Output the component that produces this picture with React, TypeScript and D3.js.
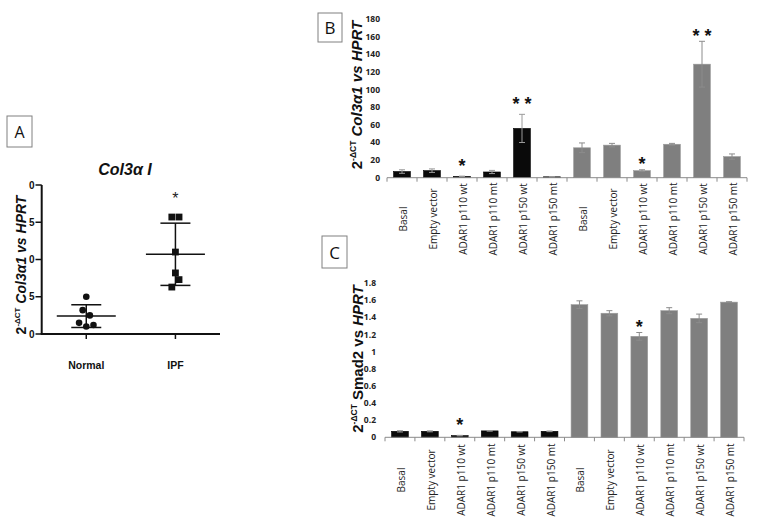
import React from "react";
import * as d3 from "d3";

// ---------- Panel A data (Col3α I, scatter with mean ± SD) ----------
const panelACategories = ["Normal", "IPF"];
const normalValues = [5.0, 3.2, 2.5, 1.5, 1.2, 1.0];
const ipfValues = [15.7, 15.7, 11.0, 8.2, 7.3, 6.3];
const panelATicks = [0, 5, 10, 15, 20];
const panelATickLabels = ["0", "5", "0", "5", "0"];
const panelASig = ["", "*"];

// ---------- Panels B & C shared categories ----------
const groupCategories = [
  "Basal",
  "Empty vector",
  "ADAR1 p110 wt",
  "ADAR1 p110 mt",
  "ADAR1 p150 wt",
  "ADAR1 p150 mt",
];

// ---------- Panel B data (Col3α1) ----------
const col3BlackMeans = [7, 8, 1.5, 6.5, 56, 1];
const col3BlackErr = [2, 2, 0.3, 1.8, 16, 0.2];
const col3GreyMeans = [34, 37, 8, 38, 129, 24];
const col3GreyErr = [5.5, 2, 1, 1, 26, 3];
const col3BlackSig = ["", "", "*", "", "* *", ""];
const col3GreySig = ["", "", "*", "", "* *", ""];
const col3Ticks = [0, 20, 40, 60, 80, 100, 120, 140, 160, 180];

// ---------- Panel C data (Smad2) ----------
const smadBlackMeans = [0.07, 0.07, 0.02, 0.075, 0.065, 0.07];
const smadBlackErr = [0.008, 0.006, 0.003, 0.003, 0.003, 0.004];
const smadGreyMeans = [1.55, 1.45, 1.18, 1.48, 1.39, 1.58];
const smadGreyErr = [0.045, 0.03, 0.045, 0.035, 0.05, 0.005];
const smadBlackSig = ["", "", "*", "", "", ""];
const smadGreySig = ["", "", "*", "", "", ""];
const smadTicks = [0, 0.2, 0.4, 0.6, 0.8, 1, 1.2, 1.4, 1.6, 1.8];

const SANS = "'Liberation Sans', Arial, sans-serif";
const LABEL_FONT = "'Open Sans', 'Noto Sans', sans-serif";

function LetterBox({ x, y, w, h, letter, size }: any) {
  return (
    <g>
      <rect x={x} y={y} width={w} height={h} fill="#fff" stroke="#808080" strokeWidth={1} />
      <text
        x={x + w / 2}
        y={y + h / 2}
        textAnchor="middle"
        dominantBaseline="central"
        fontFamily={LABEL_FONT}
        fontSize={size}
        fill="#111"
      >
        {letter}
      </text>
    </g>
  );
}

function PanelA() {
  const y = d3.scaleLinear().domain([0, 20]).range([334, 185]);
  const x = d3.scalePoint().domain(panelACategories).range([41.7, 220]).padding(0.5);
  const jitterStep = 3.6;
  const normalJitter = [0, -1, 1, -2, 2, 0];
  const ipfJitter = [-1, 1, 0, 0, 1, -1];
  const groups = [
    { cat: "Normal", values: normalValues, jitter: normalJitter, shape: "circle" },
    { cat: "IPF", values: ipfValues, jitter: ipfJitter, shape: "square" },
  ];
  return (
    <g>
      {/* title */}
      <text x={125} y={175} textAnchor="middle" fontFamily={SANS} fontWeight="bold" fontStyle="italic" fontSize={16} fill="#111">
        Col3α I
      </text>
      {/* y title */}
      <text
        transform="translate(26,265) rotate(-90)"
        textAnchor="middle"
        fontFamily={SANS}
        fontWeight="bold"
        fontSize={14}
        fill="#111"
      >
        <tspan>2</tspan>
        <tspan fontSize={8} dy={-6}>-ΔCT</tspan>
        <tspan dy={6} fontStyle="italic"> Col3α1 vs HPRT</tspan>
      </text>
      {/* axes */}
      <line x1={41.7} x2={41.7} y1={y(20)} y2={y(0)} stroke="#111" strokeWidth={2} />
      <line x1={40.7} x2={220} y1={y(0)} y2={y(0)} stroke="#111" strokeWidth={2} />
      {panelATicks.map((t, i) => (
        <g key={t}>
          <line x1={35.5} x2={41.7} y1={y(t)} y2={y(t)} stroke="#111" strokeWidth={1.5} />
          <text x={34.5} y={y(t)} dy="0.35em" textAnchor="end" fontFamily={SANS} fontWeight="bold" fontSize={10} fill="#111">
            {panelATickLabels[i]}
          </text>
        </g>
      ))}
      {panelACategories.map((c) => (
        <g key={c}>
          <line x1={x(c)!} x2={x(c)!} y1={y(0)} y2={y(0) + 5} stroke="#111" strokeWidth={1.5} />
          <text x={x(c)!} y={369} textAnchor="middle" fontFamily={SANS} fontWeight="bold" fontSize={10.5} fill="#111">
            {c}
          </text>
        </g>
      ))}
      {groups.map((g, gi) => {
        const cx = x(g.cat)!;
        const mean = d3.mean(g.values)!;
        const sd = d3.deviation(g.values)!;
        return (
          <g key={g.cat}>
            <line x1={cx} x2={cx} y1={y(mean - sd)} y2={y(mean + sd)} stroke="#111" strokeWidth={1.5} />
            <line x1={cx - 29.5} x2={cx + 29.5} y1={y(mean)} y2={y(mean)} stroke="#111" strokeWidth={1.5} />
            <line x1={cx - 15} x2={cx + 15} y1={y(mean - sd)} y2={y(mean - sd)} stroke="#111" strokeWidth={1.5} />
            <line x1={cx - 15} x2={cx + 15} y1={y(mean + sd)} y2={y(mean + sd)} stroke="#111" strokeWidth={1.5} />
            {g.values.map((v, i) =>
              g.shape === "circle" ? (
                <circle key={i} cx={cx + g.jitter[i] * jitterStep} cy={y(v)} r={3.3} fill="#111" />
              ) : (
                <rect key={i} x={cx + g.jitter[i] * jitterStep - 3.4} y={y(v) - 3.4} width={6.8} height={6.8} fill="#111" />
              )
            )}
            {panelASig[gi] && (
              <text x={cx} y={y(mean + sd) - 19} textAnchor="middle" fontFamily={SANS} fontSize={16} fill="#222">
                {panelASig[gi]}
              </text>
            )}
          </g>
        );
      })}
    </g>
  );
}

function BarPanel(props: any) {
  const {
    x0, x1, yZero, yTop, domainMax, ticks, fmt, tickLabelX,
    black, blackErr, grey, greyErr, blackSig, greySig, labelCenterY,
  } = props;
  const y = d3.scaleLinear().domain([0, domainMax]).range([yZero, yTop]);
  const keys = [...groupCategories.map((c) => "k|" + c), ...groupCategories.map((c) => "g|" + c)];
  const x = d3.scaleBand().domain(keys).range([x0, x1]).paddingInner(0.44).paddingOuter(0.22);
  const step = x.step();
  const series = [
    { prefix: "k|", values: black, err: blackErr, sig: blackSig, fill: "#0a0a0a", errColor: "#9a9a9a", sigOff: 15 },
    { prefix: "g|", values: grey, err: greyErr, sig: greySig, fill: "#7f7f7f", errColor: "#8c8c8c", sigOff: 10 },
  ];
  return (
    <g>
      {ticks.map((t: number) => (
        <text key={t} x={tickLabelX} y={y(t)} dy="0.35em" textAnchor="end" fontFamily={LABEL_FONT} fontWeight="bold" fontSize={8.5} fill="#222">
          {fmt(t)}
        </text>
      ))}
      {series.map((s) =>
        groupCategories.map((c, i) => {
          const k = s.prefix + c;
          const bx = x(k)!;
          const cx = bx + x.bandwidth() / 2;
          const v = s.values[i];
          const e = s.err[i];
          return (
            <g key={k}>
              <rect x={bx} y={y(v)} width={x.bandwidth()} height={yZero - y(v)} fill={s.fill} stroke={s.prefix === "g|" ? "#9a9a9a" : "#000"} strokeWidth={0.6} />
              <line x1={cx} x2={cx} y1={y(Math.max(0, v - e))} y2={y(v + e)} stroke={s.errColor} strokeWidth={1} />
              <line x1={cx - 3} x2={cx + 3} y1={y(v + e)} y2={y(v + e)} stroke={s.errColor} strokeWidth={1} />
              <line x1={cx - 3} x2={cx + 3} y1={y(Math.max(0, v - e))} y2={y(Math.max(0, v - e))} stroke={s.errColor} strokeWidth={1} />
              {s.sig[i] && (
                <text x={cx} y={y(v + e) - s.sigOff + 10.5} textAnchor="middle" fontFamily={SANS} fontWeight="bold" fontSize={18} fill="#111">
                  {s.sig[i]}
                </text>
              )}
              <text
                transform={`translate(${cx + 1},${labelCenterY}) rotate(-90)`}
                textAnchor="middle"
                dominantBaseline="central"
                fontFamily={LABEL_FONT}
                fontSize={10}
                fill="#222"
              >
                {c}
              </text>
            </g>
          );
        })
      )}
      <line x1={x0} x2={x1} y1={yZero} y2={yZero} stroke="#8a8a8a" strokeWidth={1} />
      {d3.range(keys.length + 1).map((i) => (
        <line key={i} x1={x0 + i * step} x2={x0 + i * step} y1={yZero} y2={yZero + 4} stroke="#8a8a8a" strokeWidth={1} />
      ))}
    </g>
  );
}

export default function App() {
  return (
    <svg
      width={757}
      height={531}
      viewBox="0 0 757 531"
      style={{ position: "absolute", left: 0, top: 0, background: "#fff" }}
    >
      <rect x={0} y={0} width={757} height={531} fill="#fff" />
      <LetterBox x={7} y={116} w={25} h={31} letter="A" size={16} />
      <LetterBox x={318} y={13} w={24} h={29} letter="B" size={17} />
      <LetterBox x={322} y={236} w={25} h={32} letter="C" size={17} />
      <PanelA />

      {/* Panel B */}
      <text transform="translate(362,95) rotate(-90)" textAnchor="middle" fontFamily={SANS} fontWeight="bold" fontSize={15} fill="#111">
        <tspan>2</tspan>
        <tspan fontSize={8.5} dy={-6}>-ΔCT</tspan>
        <tspan dy={6} fontStyle="italic"> Col3α1 vs HPRT</tspan>
      </text>
      <BarPanel
        x0={387}
        x1={747}
        yZero={177.7}
        yTop={19.3}
        domainMax={180}
        ticks={col3Ticks}
        fmt={(t: number) => String(t)}
        tickLabelX={380}
        black={col3BlackMeans}
        blackErr={col3BlackErr}
        grey={col3GreyMeans}
        greyErr={col3GreyErr}
        blackSig={col3BlackSig}
        greySig={col3GreySig}
        labelCenterY={219}
      />

      {/* Panel C */}
      <text transform="translate(363,359) rotate(-90)" textAnchor="middle" fontFamily={SANS} fontWeight="bold" fontSize={15} fill="#111">
        <tspan>2</tspan>
        <tspan fontSize={8.5} dy={-6}>-ΔCT</tspan>
        <tspan dy={6}> Smad2 vs </tspan>
        <tspan fontStyle="italic">HPRT</tspan>
      </text>
      <BarPanel
        x0={385}
        x1={744}
        yZero={437.3}
        yTop={283.3}
        domainMax={1.8}
        ticks={smadTicks}
        fmt={(t: number) => String(Math.round(t * 10) / 10)}
        tickLabelX={376}
        black={smadBlackMeans}
        blackErr={smadBlackErr}
        grey={smadGreyMeans}
        greyErr={smadGreyErr}
        blackSig={smadBlackSig}
        greySig={smadGreySig}
        labelCenterY={480}
      />
    </svg>
  );
}
